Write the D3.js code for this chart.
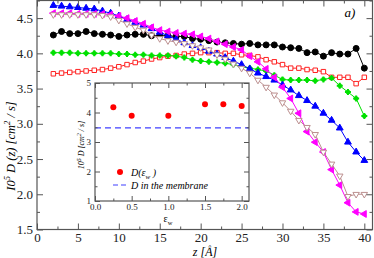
<!DOCTYPE html>
<html>
<head>
<meta charset="utf-8"/>
<script src="https://cdn.jsdelivr.net/npm/d3@7"></script>
<style>
  body { margin: 0; background: #fff; }
  svg { display: block; font-family: "Liberation Serif", "Times New Roman", serif; }
  .axis path { display: none; }
  .axis line { stroke: #555; }
</style>
</head>
<body>
<div id="chart"></div>
<script>
// positions along z (Angstrom)
var zPos = [2,3,4,5,6,7,8,9,10,11,12,13,14,15,16,17,18,19,20,21,22,23,24,25,26,27,28,29,30,31,32,33,34,35,36,37,38,39,40];

var blackD = [4.26,4.31,4.28,4.28,4.31,4.28,4.27,4.26,4.24,4.26,4.27,4.27,4.25,4.25,4.25,4.24,4.24,4.21,4.20,4.18,4.16,4.15,4.14,4.13,4.14,4.12,4.12,4.12,4.09,4.08,4.07,4.01,4.02,3.96,4.01,3.99,3.99,4.07,3.79];
var redD   = [3.71,3.72,3.73,3.74,3.75,3.76,3.77,3.79,3.81,3.84,3.87,3.89,3.92,3.94,3.96,3.97,3.99,4.00,4.01,4.01,4.01,4.00,4.00,3.98,3.97,3.95,3.91,3.88,3.84,3.79,3.79,3.77,3.76,3.74,3.66,3.66,3.66,3.57,3.66];
var greenD = [4.01,4.01,4.01,4.00,4.00,4.00,4.00,4.00,3.99,3.99,3.98,3.98,3.97,3.97,3.97,3.96,3.94,3.91,3.89,3.88,3.87,3.86,3.84,3.81,3.79,3.77,3.75,3.69,3.63,3.62,3.62,3.62,3.61,3.63,3.65,3.54,3.45,3.36,3.11];
var blueD  = [4.68,4.67,4.66,4.65,4.64,4.63,4.60,4.57,4.53,4.48,4.44,4.40,4.35,4.30,4.25,4.20,4.15,4.11,4.08,4.03,3.99,3.94,3.89,3.84,3.78,3.72,3.67,3.62,3.55,3.48,3.40,3.33,3.25,3.15,3.05,2.94,2.74,2.60,2.48];
var magD   = [4.57,4.57,4.57,4.56,4.56,4.56,4.56,4.55,4.53,4.50,4.46,4.42,4.37,4.33,4.31,4.29,4.28,4.27,4.24,4.21,4.17,4.13,4.09,4.05,3.96,3.88,3.78,3.66,3.52,3.36,3.15,2.89,2.74,2.60,2.35,2.13,1.88,1.75,1.72];
var brownD = [4.55,4.55,4.55,4.55,4.55,4.55,4.54,4.52,4.47,4.42,4.37,4.33,4.26,4.21,4.18,4.16,4.14,4.11,4.08,4.05,3.98,3.92,3.85,3.79,3.72,3.62,3.52,3.41,3.30,3.18,3.05,2.95,2.85,2.60,2.43,2.26,1.97,2.00,2.00];

// inset
var epsW   = [0.25,0.5,1.0,1.5,1.75,2.0];
var epsD   = [4.18,3.89,3.89,4.28,4.28,4.22];
var memD   = 3.48;

var SERIF = "'Liberation Serif', 'Times New Roman', serif";
var W = 374, H = 258;
var svg = d3.select("#chart").append("svg").attr("width", W).attr("height", H);

var x = d3.scaleLinear().domain([0, 41]).range([37, 372.5]);
var y = d3.scaleLinear().domain([1.5, 4.75]).range([229.5, 0.5]);

function drawAxes(g, xs, ys, opt) {
    var x0 = xs.range()[0], x1 = xs.range()[1], y0 = ys.range()[0], y1 = ys.range()[1];
    // minor ticks
    g.append("g").attr("class", "axis").attr("transform", "translate(0," + y0 + ")")
        .call(d3.axisBottom(xs).tickValues(opt.xMinor).tickSize(-opt.minor).tickFormat(""));
    g.append("g").attr("class", "axis").attr("transform", "translate(0," + y1 + ")")
        .call(d3.axisTop(xs).tickValues(opt.xMinor).tickSize(-opt.minor).tickFormat(""));
    g.append("g").attr("class", "axis").attr("transform", "translate(" + x0 + ",0)")
        .call(d3.axisLeft(ys).tickValues(opt.yMinor).tickSize(-opt.minor).tickFormat(""));
    g.append("g").attr("class", "axis").attr("transform", "translate(" + x1 + ",0)")
        .call(d3.axisRight(ys).tickValues(opt.yMinor).tickSize(-opt.minor).tickFormat(""));
    // major ticks with labels
    var bx = g.append("g").attr("class", "axis").attr("transform", "translate(0," + y0 + ")")
        .call(d3.axisBottom(xs).tickValues(opt.xMajor).tickSize(-opt.major).tickPadding(opt.padX).tickFormat(opt.xFmt));
    g.append("g").attr("class", "axis").attr("transform", "translate(0," + y1 + ")")
        .call(d3.axisTop(xs).tickValues(opt.xMajor).tickSize(-opt.major).tickFormat(""));
    var ly = g.append("g").attr("class", "axis").attr("transform", "translate(" + x0 + ",0)")
        .call(d3.axisLeft(ys).tickValues(opt.yMajor).tickSize(-opt.major).tickPadding(opt.padY).tickFormat(opt.yFmt));
    g.append("g").attr("class", "axis").attr("transform", "translate(" + x1 + ",0)")
        .call(d3.axisRight(ys).tickValues(opt.yMajor).tickSize(-opt.major).tickFormat(""));
    [bx, ly].forEach(function(a) {
        a.attr("font-family", SERIF).attr("font-size", opt.font);
        a.selectAll("text").attr("fill", "#222");
    });
    g.append("rect").attr("x", x0).attr("y", y1).attr("width", x1 - x0).attr("height", y0 - y1)
        .attr("fill", "none").attr("stroke", "#555").attr("stroke-width", 1.2);
}

var main = svg.append("g");

var series = [
    {vals: blackD, color: "#000000", sym: d3.symbolCircle, size: 28, fill: true, rot: 0},
    {vals: redD,   color: "#ff2020", sym: d3.symbolSquare, size: 20, fill: false, rot: 0},
    {vals: greenD, color: "#00e000", sym: "star", size: 24, fill: true, rot: 0},
    {vals: blueD,  color: "#0000ff", sym: d3.symbolTriangle, size: 20, fill: true, rot: 0},
    {vals: magD,   color: "#ff00ff", sym: d3.symbolTriangle, size: 20, fill: true, rot: -90},
    {vals: brownD, color: "#bc8f8f", sym: d3.symbolTriangle, size: 18, fill: false, rot: 180}
];

var line = d3.line().x(function(d) { return x(d[0]); }).y(function(d) { return y(d[1]); });

series.forEach(function(s) {
    var pts = zPos.map(function(z, i) { return [z, s.vals[i]]; });
    main.append("path").datum(pts).attr("d", line)
        .attr("fill", "none").attr("stroke", s.color).attr("stroke-width", 1);
    var mk = main.append("g").selectAll("g").data(pts).enter().append("g")
        .attr("transform", function(d) { return "translate(" + x(d[0]) + "," + y(d[1]) + ") rotate(" + s.rot + ")"; });
    if (s.sym === "star") {
        mk.append("circle").attr("r", 2.3).attr("fill", s.color);
        mk.append("path").attr("d", d3.symbol().type(d3.symbolCross).size(20)()).attr("fill", s.color);
    } else {
        mk.append("path").attr("d", d3.symbol().type(s.sym).size(s.size)())
            .attr("fill", s.fill ? s.color : "#fff")
            .attr("stroke", s.color).attr("stroke-width", 1);
    }
});

drawAxes(main, x, y, {
    xMajor: [0,5,10,15,20,25,30,35,40], xMinor: [2.5,7.5,12.5,17.5,22.5,27.5,32.5,37.5],
    yMajor: [1.5,2.0,2.5,3.0,3.5,4.0,4.5], yMinor: [1.75,2.25,2.75,3.25,3.75,4.25,4.75],
    major: 6, minor: 3, padX: 3.5, padY: 4, font: 13,
    xFmt: d3.format("d"), yFmt: d3.format(".1f")
});

// main axis titles
svg.append("text").attr("transform", "translate(15,146) rotate(-90)")
    .attr("text-anchor", "middle")
    .attr("font-family", SERIF).attr("font-style", "italic").attr("font-size", 12.5)
    .html('I0<tspan dy="-5" font-size="8.5">5</tspan><tspan dy="5"> D (z) [cm</tspan><tspan dy="-5" font-size="8.5">2</tspan><tspan dy="5"> / s]</tspan>');

svg.append("text").attr("x", 205).attr("y", 256).attr("text-anchor", "middle")
    .attr("font-family", SERIF).attr("font-style", "italic").attr("font-size", 12)
    .text("z [Å]");

svg.append("text").attr("x", 350).attr("y", 17).attr("text-anchor", "middle")
    .attr("font-family", SERIF).attr("font-style", "italic").attr("font-size", 13)
    .text("a)");

// inset
var ix = d3.scaleLinear().domain([0, 2.1]).range([95, 249]);
var iy = d3.scaleLinear().domain([1, 5]).range([201, 83]);
var inset = svg.append("g");
inset.append("rect").attr("x", 95).attr("y", 83).attr("width", 154).attr("height", 118).attr("fill", "#fff");

inset.append("line").attr("x1", ix(0)).attr("x2", ix(2.1)).attr("y1", iy(memD)).attr("y2", iy(memD))
    .attr("stroke", "#4040ff").attr("stroke-width", 1.2).attr("stroke-dasharray", "6,4");
inset.selectAll("circle.eps").data(epsW).enter().append("circle").attr("class", "eps")
    .attr("cx", function(d) { return ix(d); })
    .attr("cy", function(d, i) { return iy(epsD[i]); })
    .attr("r", 3).attr("fill", "#ff0000");

drawAxes(inset, ix, iy, {
    xMajor: [0,0.5,1.0,1.5,2.0], xMinor: [0.25,0.75,1.25,1.75],
    yMajor: [1,2,3,4,5], yMinor: [1.5,2.5,3.5,4.5],
    major: 5, minor: 2.5, padX: 2.5, padY: 4, font: 9,
    xFmt: d3.format(".1f"), yFmt: d3.format("d")
});

// inset legend
inset.append("circle").attr("cx", 120).attr("cy", 172).attr("r", 3).attr("fill", "#ff0000");
inset.append("text").attr("x", 131).attr("y", 176)
    .attr("font-family", SERIF).attr("font-style", "italic").attr("font-size", 10)
    .html('D(ε<tspan dy="3" font-size="7">w</tspan><tspan dy="-3"> )</tspan>');
inset.append("line").attr("x1", 113).attr("x2", 126).attr("y1", 185).attr("y2", 185)
    .attr("stroke", "#4040ff").attr("stroke-width", 1.2).attr("stroke-dasharray", "5,3");
inset.append("text").attr("x", 131).attr("y", 189)
    .attr("font-family", SERIF).attr("font-style", "italic").attr("font-size", 10)
    .text("D in the membrane");

// inset axis titles
svg.append("text").attr("transform", "translate(84,145) rotate(-90)")
    .attr("text-anchor", "middle")
    .attr("font-family", SERIF).attr("font-style", "italic").attr("font-size", 8)
    .html('10<tspan dy="-3" font-size="6">5</tspan><tspan dy="3"> D [cm</tspan><tspan dy="-3" font-size="6">2</tspan><tspan dy="3"> / s]</tspan>');
svg.append("text").attr("x", 168).attr("y", 222).attr("text-anchor", "middle")
    .attr("font-family", SERIF).attr("font-size", 10)
    .html('ε<tspan dy="2.5" font-size="6.5">w</tspan>');
</script>
</body>
</html>
